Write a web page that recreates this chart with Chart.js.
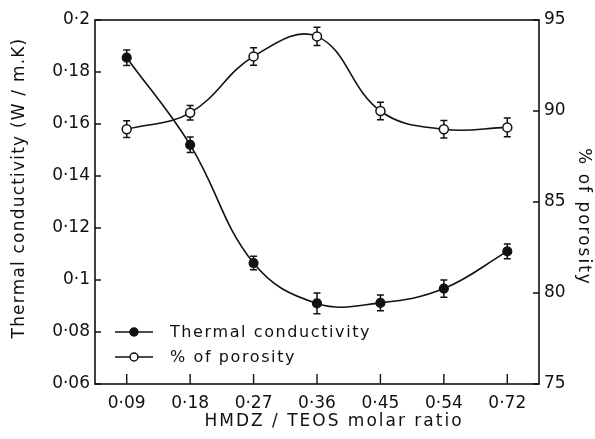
<!DOCTYPE html>
<html>
<head>
<meta charset="utf-8">
<script src="https://cdn.jsdelivr.net/npm/chart.js@4"></script>
<style>
    html, body { margin: 0; padding: 0; background: #fff; }
    #wrap { width: 595px; height: 439px; position: relative; }
</style>
</head>
<body>
<div id="wrap"><canvas id="thermalChart"></canvas></div>
<script>
// data
const ratioLabels = ['0·09', '0·18', '0·27', '0·36', '0·45', '0·54', '0·72'];
const conductivity = [0.1855, 0.152, 0.1065, 0.091, 0.0912, 0.0967, 0.111];
const conductivityErr = [0.003, 0.003, 0.0026, 0.004, 0.003, 0.0033, 0.0028];
const porosity = [89.0, 89.9, 93.0, 94.1, 90.0, 89.0, 89.1];
const porosityErr = [0.46, 0.4, 0.48, 0.5, 0.48, 0.48, 0.52];
const seriesNames = ['Thermal conductivity', '% of porosity'];
const axisTitles = ['HMDZ / TEOS molar ratio', 'Thermal conductivity (W / m.K)', '% of porosity'];

const ink = '#111';
const mainFont = { family: 'DejaVu Sans', size: 17 };

Chart.defaults.font.family = 'DejaVu Sans';
Chart.defaults.color = ink;

function dotLabel(v) {
    return String(parseFloat(Number(v).toFixed(2))).replace('.', '·');
}

// vertical error bars under the markers
const errorBars = {
    id: 'errorBars',
    beforeDatasetsDraw(chart) {
        const ctx = chart.ctx;
        const errs = [conductivityErr, porosityErr];
        ctx.save();
        ctx.strokeStyle = ink;
        ctx.lineWidth = 1.5;
        chart.data.datasets.forEach((ds, di) => {
            const meta = chart.getDatasetMeta(di);
            const yScale = chart.scales[ds.yAxisID];
            meta.data.forEach((pt, i) => {
                const hi = yScale.getPixelForValue(ds.data[i] + errs[di][i]);
                const lo = yScale.getPixelForValue(ds.data[i] - errs[di][i]);
                ctx.beginPath();
                ctx.moveTo(pt.x, hi); ctx.lineTo(pt.x, lo);
                ctx.moveTo(pt.x - 3.5, hi); ctx.lineTo(pt.x + 3.5, hi);
                ctx.moveTo(pt.x - 3.5, lo); ctx.lineTo(pt.x + 3.5, lo);
                ctx.stroke();
            });
        });
        ctx.restore();
    }
};

// box frame, inward tick marks, spaced-out axis titles and the legend
const frameAndLegend = {
    id: 'frameAndLegend',
    afterDraw(chart) {
        const ctx = chart.ctx;
        const a = chart.chartArea;
        const yl = chart.scales.y, yr = chart.scales.y2, x = chart.scales.x;
        ctx.save();
        ctx.strokeStyle = ink;
        ctx.lineWidth = 1.6;
        ctx.strokeRect(a.left, a.top, a.right - a.left, a.bottom - a.top);

        ctx.lineWidth = 1.4;
        ctx.beginPath();
        yl.ticks.forEach(t => {
            const py = yl.getPixelForValue(t.value);
            ctx.moveTo(a.left, py); ctx.lineTo(a.left + 6, py);
        });
        yr.ticks.forEach(t => {
            const py = yr.getPixelForValue(t.value);
            ctx.moveTo(a.right, py); ctx.lineTo(a.right - 6, py);
        });
        ratioLabels.forEach((l, i) => {
            const px = x.getPixelForValue(i);
            ctx.moveTo(px, a.bottom); ctx.lineTo(px, a.bottom - 10);
        });
        ctx.stroke();

        // axis titles
        ctx.fillStyle = ink;
        ctx.font = '17px "DejaVu Sans"';
        ctx.letterSpacing = '2px';
        ctx.textAlign = 'center';
        ctx.textBaseline = 'middle';
        ctx.fillText(axisTitles[0], 334, 422);

        ctx.letterSpacing = '1.2px';
        ctx.save();
        ctx.translate(20, 188);
        ctx.rotate(-Math.PI / 2);
        ctx.fillText(axisTitles[1], 0, 0);
        ctx.restore();

        ctx.letterSpacing = '2px';
        ctx.save();
        ctx.translate(583, 217);
        ctx.rotate(Math.PI / 2);
        ctx.fillText(axisTitles[2], 0, 0);
        ctx.restore();

        // legend
        const lx = a.left + 20;
        const rows = [a.bottom - 52, a.bottom - 27];
        ctx.font = '16px "DejaVu Sans"';
        ctx.letterSpacing = '1.6px';
        ctx.textAlign = 'left';
        chart.data.datasets.forEach((ds, i) => {
            const ly = rows[i];
            ctx.beginPath();
            ctx.moveTo(lx, ly); ctx.lineTo(lx + 38, ly);
            ctx.lineWidth = 1.5;
            ctx.stroke();
            ctx.beginPath();
            ctx.arc(lx + 19, ly, 4, 0, Math.PI * 2);
            ctx.fillStyle = ds.pointBackgroundColor;
            ctx.fill();
            ctx.stroke();
            ctx.fillStyle = ink;
            ctx.fillText(ds.label, lx + 55, ly + 1);
        });
        ctx.restore();
    }
};

new Chart(document.getElementById('thermalChart').getContext('2d'), {
    type: 'line',
    data: {
        labels: ratioLabels,
        datasets: [
            {
                label: seriesNames[0],
                data: conductivity,
                yAxisID: 'y',
                borderColor: ink,
                borderWidth: 1.6,
                tension: 0.4,
                pointRadius: 4.5,
                pointBackgroundColor: ink,
                pointBorderColor: ink,
                pointBorderWidth: 1.2
            },
            {
                label: seriesNames[1],
                data: porosity,
                yAxisID: 'y2',
                borderColor: ink,
                borderWidth: 1.6,
                tension: 0.4,
                pointRadius: 4.5,
                pointBackgroundColor: '#fff',
                pointBorderColor: ink,
                pointBorderWidth: 1.5
            }
        ]
    },
    options: {
        responsive: true,
        maintainAspectRatio: false,
        animation: false,
        layout: { padding: { top: 20, left: 0, right: 0, bottom: 0 } },
        plugins: { legend: { display: false }, tooltip: { enabled: false } },
        scales: {
            x: {
                type: 'category',
                offset: true,
                grid: { display: false, drawTicks: false },
                border: { display: false },
                ticks: { font: mainFont, color: ink, padding: 9 },
                afterFit: s => { s.height = 55; }
            },
            y: {
                position: 'left',
                min: 0.06,
                max: 0.2,
                grid: { display: false, drawTicks: false },
                border: { display: false },
                ticks: { stepSize: 0.02, font: mainFont, color: ink, padding: 5, callback: v => dotLabel(v) },
                afterFit: s => { s.width = 95; }
            },
            y2: {
                position: 'right',
                min: 75,
                max: 95,
                grid: { display: false, drawTicks: false },
                border: { display: false },
                ticks: { stepSize: 5, font: mainFont, color: ink, padding: 5 },
                afterFit: s => { s.width = 56; }
            }
        }
    },
    plugins: [errorBars, frameAndLegend]
});
</script>
</body>
</html>
